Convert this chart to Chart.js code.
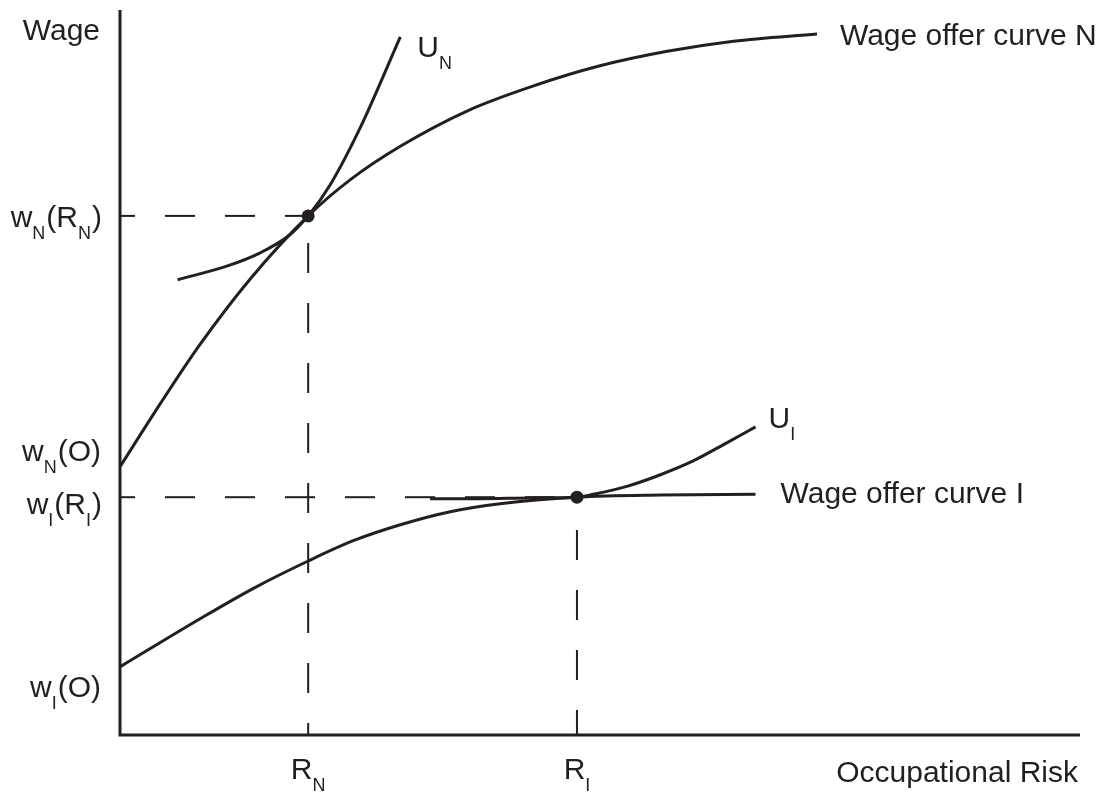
<!DOCTYPE html>
<html>
<head>
<meta charset="utf-8">
<script src="https://cdn.jsdelivr.net/npm/chart.js@4.4.0/dist/chart.umd.min.js"></script>
<style>
html, body { margin: 0; padding: 0; background: #fff; }
</style>
</head>
<body>
<canvas id="chart" width="1107" height="797"></canvas>
<script>
// risk on x (0-100), wage on y (0-100)
const wageOfferN = [[0, 37.0], [4.2, 45.7], [8.3, 53.8], [13.5, 62.8], [19.6, 71.6], [24.0, 76.6],
    [29.2, 81.2], [36.2, 86.1], [43.0, 89.5], [50.0, 92.3], [57.0, 94.3], [63.9, 95.7], [72.6, 96.7]];
const indiffN = [[6.0, 62.8], [11.2, 64.7], [14.6, 66.5], [17.7, 69.0], [19.6, 71.6],
    [21.9, 75.9], [25.0, 83.7], [29.2, 96.3]];
const wageOfferI = [[0, 9.4], [8.3, 16.0], [14.0, 20.3], [19.6, 24.0], [24.3, 26.8], [29.2, 29.0],
    [34.4, 30.8], [39.6, 31.9], [47.6, 32.8], [56.3, 33.1], [66.2, 33.2]];
const indiffI = [[32.3, 32.6], [37.5, 32.6], [42.7, 32.7], [47.6, 32.8], [49.3, 33.2], [52.8, 34.3],
    [56.3, 35.9], [59.7, 37.8], [63.2, 40.3], [66.2, 42.5]];

const riskN = 19.6, riskI = 47.6;
const wageAtRN = 71.6, wageAtRI = 32.8;

const ink = '#231f20';
const font = '"Liberation Sans", Arial, sans-serif';

function pts(arr) {
    return arr.map(p => ({ x: p[0], y: p[1] }));
}

function curve(arr) {
    return {
        data: pts(arr), showLine: true, borderColor: ink, borderWidth: 3,
        pointRadius: 0, cubicInterpolationMode: 'monotone', clip: false
    };
}

function dashed(arr, offset) {
    return {
        data: pts(arr), showLine: true, borderColor: ink, borderWidth: 2,
        borderDash: [30, 30], borderDashOffset: offset, pointRadius: 0, clip: false
    };
}

// label pieces: [text, isSubscript]
function drawRich(ctx, parts, x, y, align) {
    const big = '30px ' + font, small = '18px ' + font;
    let total = 0;
    parts.forEach(p => {
        ctx.font = p[1] ? small : big;
        total += ctx.measureText(p[0]).width;
    });
    let cx = align === 'right' ? x - total : align === 'center' ? x - total / 2 : x;
    ctx.textAlign = 'left';
    ctx.textBaseline = 'alphabetic';
    parts.forEach(p => {
        ctx.font = p[1] ? small : big;
        ctx.fillText(p[0], cx, p[1] ? y + 12 : y);
        cx += ctx.measureText(p[0]).width + (p[1] ? 1 : 0);
    });
}

const labelPlugin = {
    id: 'labels',
    afterDraw(chart) {
        const ctx = chart.ctx;
        const xs = chart.scales.x, ys = chart.scales.y;
        const left = xs.getPixelForValue(0) - 20;
        ctx.save();
        ctx.fillStyle = ink;
        drawRich(ctx, [['Wage']], left, ys.getPixelForValue(100) + 30, 'right');
        drawRich(ctx, [['w'], ['N', 1], ['(R'], ['N', 1], [')']], left, ys.getPixelForValue(wageAtRN) + 11, 'right');
        drawRich(ctx, [['w'], ['N', 1], ['(O)']], left, ys.getPixelForValue(wageOfferN[0][1]) - 6, 'right');
        drawRich(ctx, [['w'], ['I', 1], ['(R'], ['I', 1], [')']], left, ys.getPixelForValue(wageAtRI) + 17, 'right');
        drawRich(ctx, [['w'], ['I', 1], ['(O)']], left, ys.getPixelForValue(wageOfferI[0][1]) + 30, 'right');

        const base = ys.getPixelForValue(0);
        drawRich(ctx, [['R'], ['N', 1]], xs.getPixelForValue(riskN), base + 44, 'center');
        drawRich(ctx, [['R'], ['I', 1]], xs.getPixelForValue(riskI), base + 44, 'center');
        drawRich(ctx, [['Occupational Risk']], xs.getPixelForValue(100) - 2, base + 47, 'right');

        const nEnd = indiffN[indiffN.length - 1];
        drawRich(ctx, [['U'], ['N', 1]], xs.getPixelForValue(nEnd[0]) + 17, ys.getPixelForValue(nEnd[1]) + 20, 'left');
        const wnEnd = wageOfferN[wageOfferN.length - 1];
        drawRich(ctx, [['Wage offer curve N']], xs.getPixelForValue(wnEnd[0]) + 23, ys.getPixelForValue(wnEnd[1]) + 11, 'left');
        const iEnd = indiffI[indiffI.length - 1];
        drawRich(ctx, [['U'], ['I', 1]], xs.getPixelForValue(iEnd[0]) + 13, ys.getPixelForValue(iEnd[1]) + 1, 'left');
        const wiEnd = wageOfferI[wageOfferI.length - 1];
        drawRich(ctx, [['Wage offer curve I']], xs.getPixelForValue(wiEnd[0]) + 25, ys.getPixelForValue(wiEnd[1]) + 9, 'left');
        ctx.restore();
    }
};

const ctx = document.getElementById('chart').getContext('2d');
new Chart(ctx, {
    type: 'scatter',
    data: {
        datasets: [
            // axes
            { data: [{ x: 0, y: 100 }, { x: 0, y: 0 }, { x: 100, y: 0 }], showLine: true,
              borderColor: ink, borderWidth: 3, pointRadius: 0, clip: false },
            dashed([[0, wageAtRN], [riskN, wageAtRN]], 15),
            dashed([[riskN, 0], [riskN, wageAtRN]], 18),
            dashed([[0, wageAtRI], [riskI, wageAtRI]], 15),
            dashed([[riskI, 0], [riskI, wageAtRI]], 5),
            curve(wageOfferN),
            curve(indiffN),
            curve(wageOfferI),
            curve(indiffI),
            { data: [{ x: riskN, y: wageAtRN }, { x: riskI, y: wageAtRI }], pointRadius: 6.5,
              pointBackgroundColor: ink, pointBorderWidth: 0, clip: false }
        ]
    },
    options: {
        responsive: false,
        animation: false,
        layout: { padding: { left: 120, right: 27, top: 10, bottom: 62 } },
        scales: {
            x: { type: 'linear', min: 0, max: 100, display: false },
            y: { type: 'linear', min: 0, max: 100, display: false }
        },
        plugins: { legend: { display: false }, tooltip: { enabled: false } }
    },
    plugins: [labelPlugin]
});
</script>
</body>
</html>
